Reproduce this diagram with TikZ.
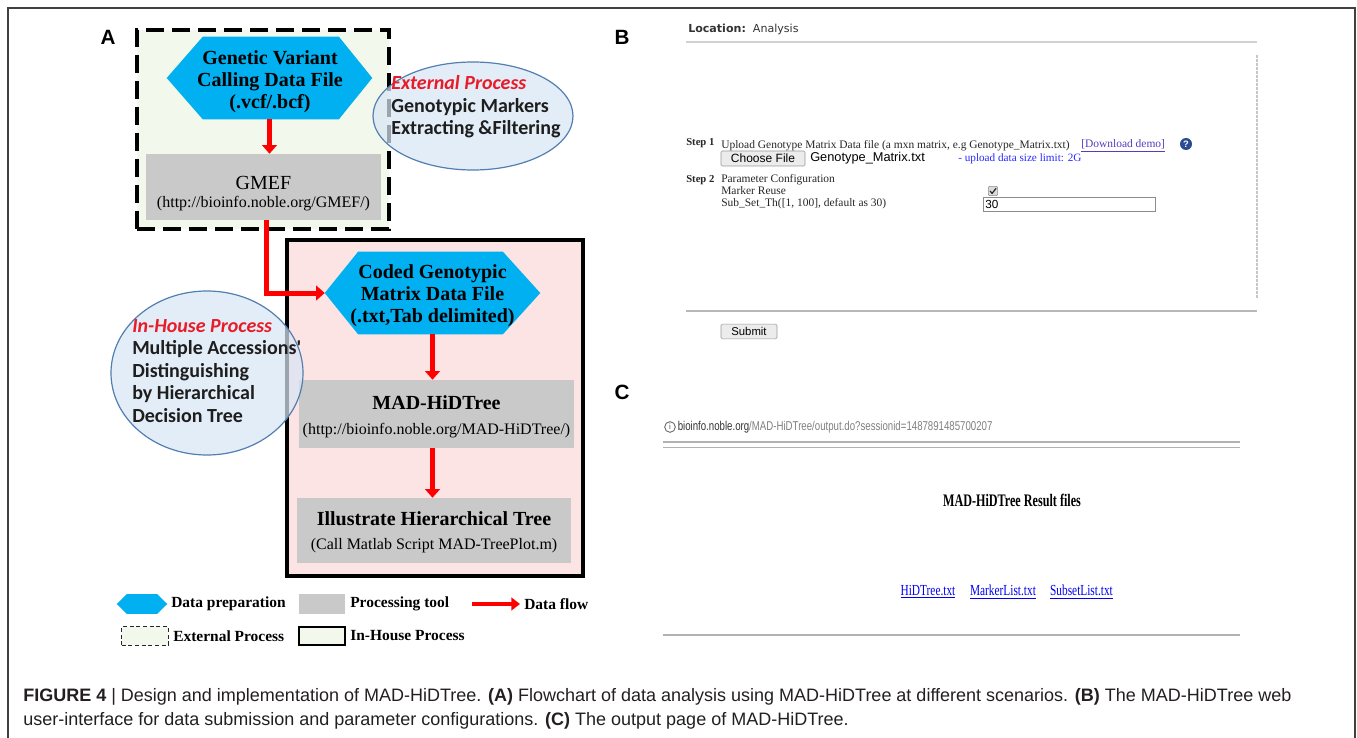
\documentclass[tikz,border=0pt]{standalone}
\usepackage{fontspec}
\usepackage{graphicx}
\setmainfont{Liberation Serif}
\newfontfamily\carl{Carlito}
\newfontfamily\lsans{Liberation Sans}
\newfontfamily\dsans{DejaVu Sans}
\newfontfamily\capfont{Liberation Sans}
\usetikzlibrary{shapes.geometric,arrows.meta}
\definecolor{hexblue}{RGB}{0,176,240}
\definecolor{procgray}{RGB}{201,201,201}
\definecolor{extgreen}{RGB}{243,248,236}
\definecolor{inpink}{RGB}{253,228,228}
\definecolor{ellfill}{RGB}{216,230,244}
\definecolor{elldraw}{RGB}{82,126,176}
\definecolor{flowred}{RGB}{255,0,0}
\definecolor{procred}{RGB}{232,28,40}
\definecolor{bubdark}{RGB}{30,30,30}
\definecolor{linkblue}{RGB}{0,0,238}
\definecolor{visited}{RGB}{88,60,190}
\definecolor{qblue}{RGB}{40,75,145}
\definecolor{uplblue}{RGB}{40,40,255}
\definecolor{btngray}{RGB}{236,236,236}
\definecolor{capgray}{RGB}{35,31,32}
\begin{document}
\begin{tikzpicture}[x=0.75pt,y=-0.75pt,
  hexbox/.style={rectangle, draw=none, fill=none, inner sep=0pt},
  hextext/.style={inner sep=0pt, align=center, font=\bfseries\fontsize{15pt}{16.5pt}\selectfont},
  procbox/.style={rectangle, fill=procgray, draw=none, inner sep=0pt},
  flow/.style={draw=flowred, line width=3.75pt, -{Triangle[width=11pt,length=6.5pt]}},
  bubble/.style={ellipse, fill=ellfill, draw=elldraw, line width=0.9pt, fill opacity=0.72, inner sep=0pt},
  bubtext/.style={anchor=west, align=left, inner sep=0pt, text=bubdark,
    font=\carl\bfseries\fontsize{15pt}{16.9pt}\selectfont},
  plabel/.style={font=\lsans\bfseries\fontsize{15.5pt}{15.5pt}\selectfont, inner sep=0pt},
  legtext/.style={anchor=west, inner sep=0pt, font=\bfseries\fontsize{11.6pt}{12pt}\selectfont},
  webtext/.style={anchor=west, inner sep=0pt, font=\fontsize{8.6pt}{9pt}\selectfont, text=black!85},
  webstep/.style={anchor=west, inner sep=0pt, font=\bfseries\fontsize{8pt}{8pt}\selectfont, text=black!85},
  btn/.style={rectangle, fill=btngray, draw=black!40, rounded corners=1pt, inner sep=0pt,
    font=\lsans\fontsize{9pt}{9pt}\selectfont},
  caption/.style={anchor=base west, inner sep=0pt, text=capgray, font=\capfont\fontsize{13.5pt}{14pt}\selectfont}
]
\useasboundingbox (0,0) rectangle (1357,738);
% outer frame
\draw[black!75, line width=1.1pt] (8,738) -- (8,8) -- (1355,8) -- (1355,738);

% ================= Panel A =================
\node[plabel] (lA) at (108,37) {A};
% external process dashed box
\node[rectangle, fill=extgreen, draw=black, line width=3pt, dash pattern=on 13.5pt off 6pt,
  minimum width=189pt, minimum height=149.25pt, inner sep=0pt] (extbox) at (263,129.5) {};
\node[hexbox, minimum width=153.75pt, minimum height=61.5pt] (h1) at (269.5,78) {};
\fill[hexblue] (h1.west) -- ([xshift=27pt]h1.north west) -- ([xshift=-25pt]h1.north east) -- (h1.east)
  -- ([xshift=-25pt]h1.south east) -- ([xshift=27pt]h1.south west) -- cycle;
\node[hextext] (h1t) at (270,82) {Genetic Variant\\Calling Data File\\(.vcf/.bcf)};
\node[procbox, minimum width=176.25pt, minimum height=49.5pt] (gmef) at (263.5,187) {};
\node[inner sep=0pt, font=\fontsize{15pt}{15pt}\selectfont] (gmefT) at (263.5,183) {GMEF};
\node[inner sep=0pt, font=\fontsize{12pt}{12pt}\selectfont] (gmefU) at (263.5,204) {(http://bioinfo.noble.org/GMEF/)};
\draw[flow] (h1.south) -- (h1.south |- gmef.north);

% external bubble
\node[bubble, minimum width=150pt, minimum height=81pt] (ext) at (473,116) {};
\node[bubtext] (extT) at (391,107)
  {\textcolor{procred}{\itshape External Process}\\Genotypic Markers\\Extracting \&Filtering};

% in-house solid box
\node[rectangle, fill=inpink, draw=black, line width=3pt, minimum width=222pt, minimum height=252pt,
  inner sep=0pt] (inbox) at (435,408) {};
\node[hexbox, minimum width=161.25pt, minimum height=61.5pt] (h2) at (432.5,293) {};
\fill[hexblue] (h2.west) -- ([xshift=25pt]h2.north west) -- ([xshift=-28pt]h2.north east) -- (h2.east)
  -- ([xshift=-28pt]h2.south east) -- ([xshift=25pt]h2.south west) -- cycle;
\node[hextext] (h2t) at (432.5,296) {Coded Genotypic\\Matrix Data File\\(.txt,Tab delimited)};
\node[procbox, minimum width=206.25pt, minimum height=51pt] (mad) at (436.5,414) {};
\node[inner sep=0pt, font=\bfseries\fontsize{15pt}{15pt}\selectfont] (madT) at (436.5,403) {MAD-HiDTree};
\node[inner sep=0pt, font=\fontsize{12pt}{12pt}\selectfont] (madU) at (436.5,431) {(http://bioinfo.noble.org/MAD-HiDTree/)};
\node[procbox, minimum width=205.5pt, minimum height=48.75pt] (illus) at (434,530.5) {};
\node[inner sep=0pt, font=\bfseries\fontsize{15pt}{15pt}\selectfont] (illT) at (434,519) {Illustrate Hierarchical Tree};
\node[inner sep=0pt, font=\fontsize{12pt}{12pt}\selectfont] (illU) at (434,546) {(Call Matlab Script MAD-TreePlot.m)};
\draw[flow] (h2.south) -- (h2.south |- mad.north);
\draw[flow] (h2.south |- mad.south) -- (h2.south |- illus.north);
\draw[flow] ([xshift=2.5pt]gmef.south) |- (h2.west);

% in-house bubble
\node[bubble, minimum width=144pt, minimum height=123pt] (inh) at (207,373) {};
\node[bubtext] (inhT) at (132,371)
  {\textcolor{procred}{\itshape In-House Process}\\Multiple Accessions'\\Distinguishing\\by Hierarchical\\Decision Tree};

% legend
\node[hexbox, minimum width=37.5pt, minimum height=14.25pt] (lgHex) at (142,604) {};
\fill[hexblue] (lgHex.west) -- ([xshift=7.5pt]lgHex.north west) -- ([xshift=-7.5pt]lgHex.north east) -- (lgHex.east)
  -- ([xshift=-7.5pt]lgHex.south east) -- ([xshift=7.5pt]lgHex.south west) -- cycle;
\node[legtext] (lgHexT) at (171,604) {Data preparation};
\node[procbox, minimum width=34.5pt, minimum height=15pt] (lgProc) at (322,604) {};
\node[legtext] (lgProcT) at (350,604) {Processing tool};
\coordinate (lgA1) at (472,604);
\coordinate (lgA2) at (520,604);
\draw[draw=flowred, line width=3pt, -{Triangle[width=9.5pt,length=6.5pt]}] (lgA1) -- (lgA2);
\node[legtext] (lgFlowT) at (524,604) {Data flow};
\node[rectangle, fill=extgreen, draw=black!85, line width=0.9pt, dash pattern=on 3pt off 2pt,
  minimum width=35pt, minimum height=14pt, inner sep=0pt] (lgExt) at (145,636) {};
\node[legtext] (lgExtT) at (173,636) {External Process};
\node[rectangle, fill=extgreen, draw=black, line width=1.1pt,
  minimum width=34.5pt, minimum height=13.5pt, inner sep=0pt] (lgIn) at (322,636) {};
\node[legtext] (lgInT) at (350,636) {In-House Process};

% ================= Panel B =================
\node[plabel] (lB) at (622,37) {B};
\node[anchor=west, inner sep=0pt, font=\dsans\fontsize{8.3pt}{9pt}\selectfont, text=black!80] (loc) at (688,29)
  {\textbf{Location:}\ \ Analysis};
\draw[black!18, line width=0.8pt] (686,42) -- (1257,42);
\draw[black!22, line width=0.8pt, dash pattern=on 2pt off 1pt] (1257,55) -- (1257,298);
\node[webstep] (s1) at (686,143) {Step 1};
\node[webtext] (up) at (721,146) {Upload Genotype Matrix Data file (a mxn matrix, e.g Genotype\_Matrix.txt)};
\node[webtext, text=visited] (dl) at (1081,146) {\underline{[Download demo]}};
\node[circle, fill=qblue, minimum size=9pt, inner sep=0pt, text=white,
  font=\lsans\bfseries\fontsize{7pt}{7pt}\selectfont] (q) at (1186,144) {?};
\node[btn, minimum width=63pt, minimum height=11.25pt] (cf) at (763,158.5) {Choose File};
\node[anchor=west, inner sep=0pt, font=\lsans\fontsize{9.6pt}{9.6pt}\selectfont] (fn) at (810,158.5) {Genotype\_Matrix.txt};
\node[webtext, text=uplblue, font=\fontsize{8.4pt}{8.4pt}\selectfont] (lim) at (958,158.5) {- upload data size limit: 2G};
\node[webstep] (s2) at (686,180) {Step 2};
\node[webtext] (pc) at (721,180) {Parameter Configuration};
\node[webtext] (mr) at (721,191) {Marker Reuse};
\node[rectangle, fill=black!14, draw=black!45, minimum size=7pt, inner sep=0pt, rounded corners=0.8pt] (cb) at (993,191) {};
\draw[black!85, line width=0.9pt] ([xshift=-2.2pt]cb.center) -- ([xshift=-0.7pt,yshift=-1.8pt]cb.center) -- ([xshift=2.3pt,yshift=2pt]cb.center);
\node[webtext] (ss) at (721,204) {Sub\_Set\_Th([1, 100], default as 30)};
\node[rectangle, draw=black!45, fill=white, minimum width=129pt, minimum height=10.5pt, inner sep=0pt] (inp) at (1069,204) {};
\node[anchor=west, inner sep=0pt, font=\lsans\fontsize{8.8pt}{9pt}\selectfont] (v30) at (985,204) {30};
\draw[black!28, line width=1.4pt] (686,311) -- (1257,311);
\node[btn, minimum width=42pt, minimum height=11pt, font=\lsans\fontsize{8.5pt}{9pt}\selectfont] (sub) at (749,331.5) {Submit};

% ================= Panel C =================
\node[plabel] (lC) at (622,392) {C};
\node[circle, draw=black!65, line width=0.6pt, minimum size=8pt, inner sep=0pt,
  font=\lsans\fontsize{6pt}{6pt}\selectfont, text=black!65] (info) at (670,427) {i};
\node[anchor=west, inner sep=0pt] (url) at (677.5,427)
  {\scalebox{0.755}[1]{\lsans\fontsize{9.6pt}{10pt}\selectfont\textcolor{black!80}{bioinfo.noble.org}\textcolor{black!50}{/MAD-HiDTree/output.do?sessionid=1487891485700207}}};
\draw[black!30, line width=1.3pt] (663,442) -- (1240,442);
\draw[black!30, line width=1.3pt] (663,447.5) -- (1240,447.5);
\node[inner sep=0pt] (rtitle) at (1012,500)
  {\scalebox{0.69}[1]{\bfseries\fontsize{13.2pt}{14pt}\selectfont MAD-HiDTree Result files}};
\node[inner sep=0pt, text=linkblue] (l1) at (928,592) {\scalebox{0.74}[1]{\fontsize{11.5pt}{12pt}\selectfont\underline{HiDTree.txt}}};
\node[inner sep=0pt, text=linkblue] (l2) at (1003,592) {\scalebox{0.74}[1]{\fontsize{11.5pt}{12pt}\selectfont\underline{MarkerList.txt}}};
\node[inner sep=0pt, text=linkblue] (l3) at (1081.5,592) {\scalebox{0.74}[1]{\fontsize{11.5pt}{12pt}\selectfont\underline{SubsetList.txt}}};
\draw[black!30, line width=1.5pt] (663,635) -- (1240,635);

% ================= Caption =================
\node[caption] (cap1) at (23,701) {\textbf{FIGURE 4} \textbar\ Design and implementation of MAD-HiDTree. \textbf{(A)} Flowchart of data analysis using MAD-HiDTree at different scenarios. \textbf{(B)} The MAD-HiDTree web};
\node[caption] (cap2) at (23,725) {user-interface for data submission and parameter configurations. \textbf{(C)} The output page of MAD-HiDTree.};
\end{tikzpicture}
\end{document}
